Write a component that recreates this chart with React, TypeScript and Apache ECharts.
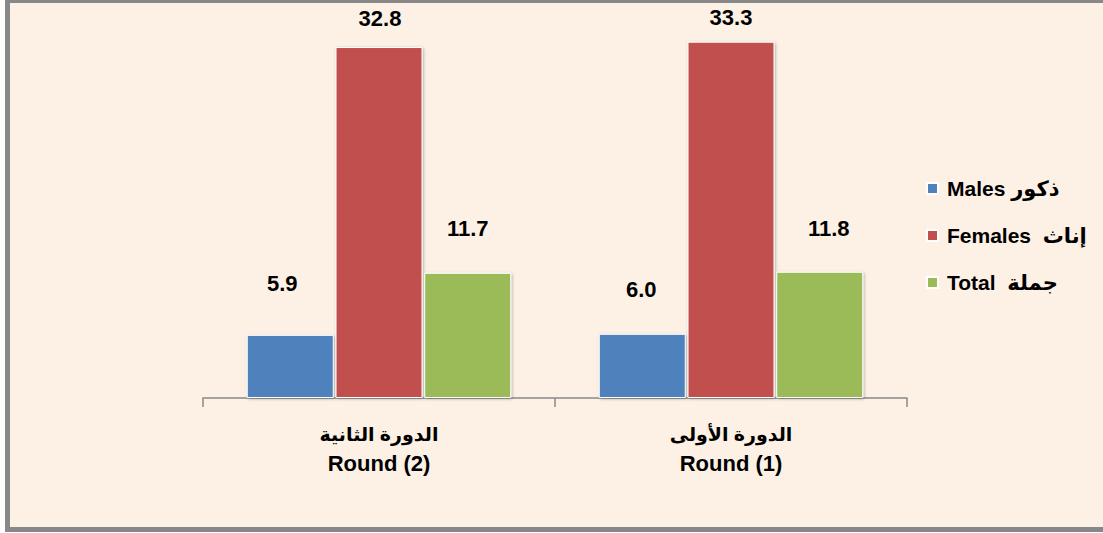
import React, { useEffect, useRef } from "react";
import * as echarts from "echarts";

const categoriesAr = ["الدورة الثانية", "الدورة الأولى"];
const categoriesEn = ["Round (2)", "Round (1)"];
const seriesNames = ["Males ذكور", "Females  إناث", "Total  جملة"];
const males = [5.9, 6.0];
const females = [32.8, 33.3];
const totals = [11.7, 11.8];

// label placement tweaks (style only)
const labelOffsets = [
  [[-8, -40], [-1, -33]],
  [[1, -18], [0, -13]],
  [[0, -33], [9, -32]],
];

const colors = ["#4F81BD", "#C0504D", "#9BBB59"];
const FONT = "'Liberation Sans', 'DejaVu Sans', Arial, sans-serif";

export default function App() {
  const ref = useRef<HTMLDivElement>(null);
  useEffect(() => {
    if (!ref.current) return;
    const chart = echarts.init(ref.current, undefined, { renderer: "svg" });
    const all = [males, females, totals];
    const categories = categoriesAr.map((a, i) => a + "\n" + categoriesEn[i]);
    chart.setOption({
      animation: false,
      backgroundColor: "transparent",
      grid: { left: 203, right: 196, top: 23.5, bottom: 135 },
      legend: {
        orient: "vertical",
        left: 921,
        top: 173,
        itemWidth: 11,
        itemHeight: 11,
        itemGap: 26,
        icon: "rect",
        textStyle: { fontFamily: FONT, fontWeight: "bold", fontSize: 21, color: "#000", padding: [0, 0, 0, 4] },
        data: seriesNames,
      },
      xAxis: {
        type: "category",
        data: categories,
        axisLine: { lineStyle: { color: "#888", width: 1.5 } },
        axisTick: { show: true, length: 9, interval: 0, lineStyle: { color: "#888", width: 1.5 } },
        axisLabel: {
          interval: 0,
          margin: 22,
          formatter: (v: string) => {
            const [a, e] = v.split("\n");
            return "{ar|" + a + "}\n{en|" + e + "}";
          },
          rich: {
            ar: { fontFamily: FONT, fontWeight: "bold", fontSize: 19, lineHeight: 29, color: "#000" },
            en: { fontFamily: FONT, fontWeight: "bold", fontSize: 22, lineHeight: 29, color: "#000" },
          },
        },
      },
      yAxis: { type: "value", min: 0, max: 35, show: false, splitLine: { show: false } },
      series: all.map((vals, si) => ({
        name: seriesNames[si],
        type: "bar",
        barWidth: 87,
        barGap: "2%",
        itemStyle: {
          color: colors[si],
          borderColor: "#fff",
          borderWidth: 1,
          shadowBlur: 3,
          shadowColor: "rgba(0,0,0,0.3)",
          shadowOffsetX: 1,
          shadowOffsetY: 1,
        },
        label: {
          show: true,
          position: "top",
          distance: 0,
          fontFamily: FONT,
          fontWeight: "bold",
          fontSize: 22,
          color: "#000",
          formatter: (p: any) => Number(p.value).toFixed(1),
        },
        data: vals.map((v, i) => ({
          value: v,
          label: { offset: labelOffsets[si][i] },
        })),
      })),
    });
    return () => chart.dispose();
  }, []);

  return (
    <div style={{ position: "fixed", left: 0, top: 0, width: 1103, height: 533, background: "#fff", overflow: "hidden" }}>
      <div
        style={{
          position: "absolute",
          left: 5,
          top: 0,
          width: 1110,
          height: 532,
          boxSizing: "border-box",
          background: "#FDF1E6",
          borderLeft: "5px solid #888",
          borderTop: "3px solid #888",
          borderBottom: "5px solid #888",
        }}
      />
      <div ref={ref} style={{ position: "absolute", left: 0, top: 0, width: 1103, height: 533 }} />
    </div>
  );
}
